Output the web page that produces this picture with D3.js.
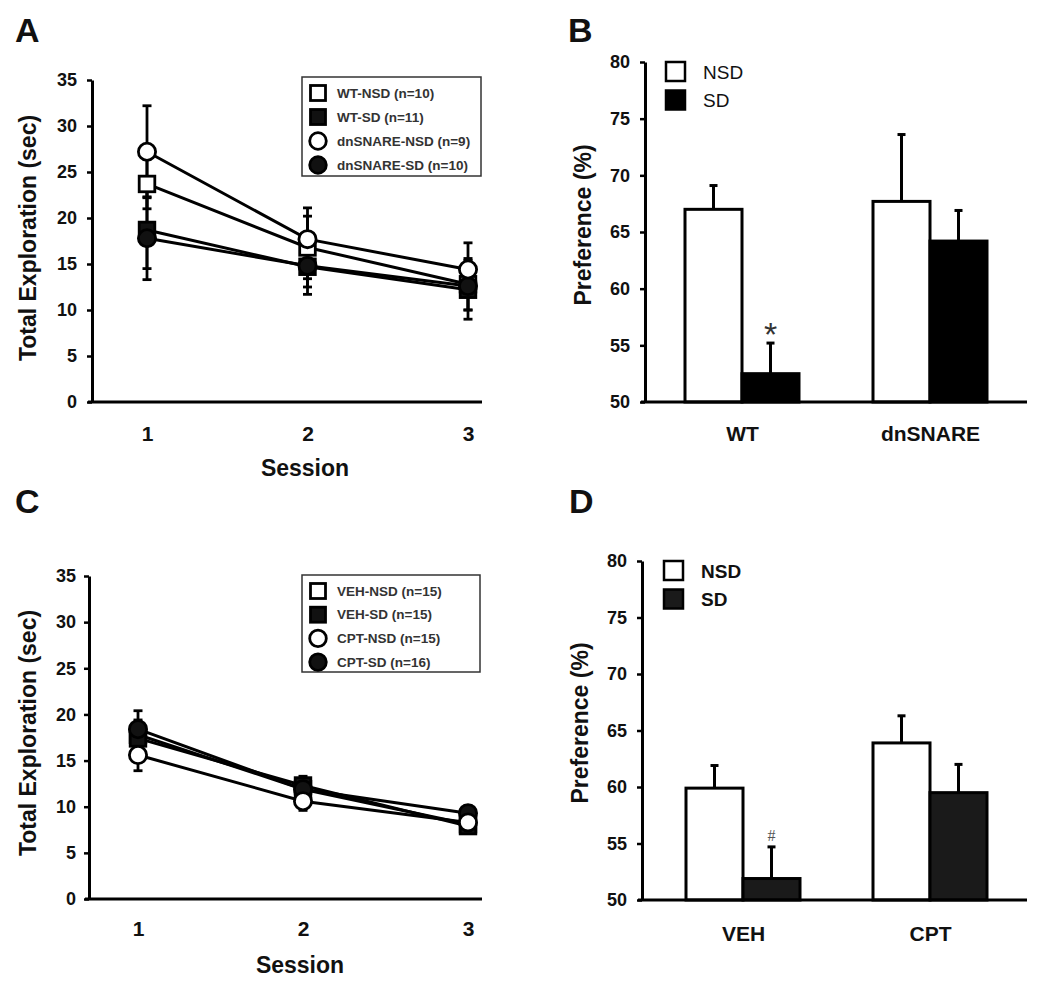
<!DOCTYPE html>
<html>
<head>
<meta charset="utf-8">
<script src="https://cdn.jsdelivr.net/npm/d3@7"></script>
<style>
  body { margin: 0; background: #fff; }
  svg { display: block; font-family: "Liberation Sans", Arial, sans-serif; }
</style>
</head>
<body>
<svg id="chart" width="1050" height="986"></svg>
<script>
// ---------------- DATA ----------------
const sessions = [1, 2, 3];

// Panel A
const seriesA = ["WT-NSD (n=10)", "WT-SD (n=11)", "dnSNARE-NSD (n=9)", "dnSNARE-SD (n=10)"];
const wtNSD_A = [23.7, 16.8, 12.8];
const wtNSD_A_err = [2.7, 3.4, 2.8];
const wtSD_A = [18.7, 14.7, 12.2];
const wtSD_A_err = [4.2, 2.2, 3.2];
const dnNSD_A = [27.2, 17.7, 14.4];
const dnNSD_A_err = [5.0, 3.4, 2.9];
const dnSD_A = [17.8, 14.8, 12.6];
const dnSD_A_err = [4.5, 3.1, 2.6];

// Panel C
const seriesC = ["VEH-NSD (n=15)", "VEH-SD (n=15)", "CPT-NSD (n=15)", "CPT-SD (n=16)"];
const vehNSD_C = [17.8, 11.9, 8.1];
const vehNSD_C_err = [1.6, 1.0, 0.8];
const vehSD_C = [17.4, 12.3, 7.9];
const vehSD_C_err = [1.5, 1.0, 0.8];
const cptNSD_C = [15.6, 10.6, 8.3];
const cptNSD_C_err = [1.7, 1.0, 0.8];
const cptSD_C = [18.4, 11.9, 9.3];
const cptSD_C_err = [2.0, 1.0, 0.8];

const yTicksLine = [0, 5, 10, 15, 20, 25, 30, 35];

// Panel B
const groupsB = ["WT", "dnSNARE"];
const conditions = ["NSD", "SD"];
const nsdB = [67.0, 67.7];
const nsdB_err = [2.1, 5.9];
const sdB = [52.5, 64.2];
const sdB_err = [2.7, 2.7];
const marksB = ["*", ""];

// Panel D
const groupsD = ["VEH", "CPT"];
const nsdD = [59.9, 63.9];
const nsdD_err = [2.0, 2.4];
const sdD = [51.9, 59.5];
const sdD_err = [2.8, 2.5];
const marksD = ["#", ""];

const yTicksBar = [50, 55, 60, 65, 70, 75, 80];

// ---------------- DRAW ----------------
const svg = d3.select("#chart");
svg.append("rect").attr("width", 1050).attr("height", 986).attr("fill", "#fff");

function panelLabel(txt, x, y) {
  svg.append("text").attr("x", x).attr("y", y).text(txt)
    .attr("font-size", 34).attr("font-weight", "bold").attr("fill", "#111");
}

function styleAxis(g) {
  g.select(".domain").attr("stroke", "#000").attr("stroke-width", 3);
  g.selectAll(".tick line").attr("stroke", "#000").attr("stroke-width", 2.5);
}

function linePanel(cfg) {
  const g = svg.append("g");
  const y = d3.scaleLinear().domain([0, 35]).range([cfg.bottom, cfg.top]);
  const x = d3.scaleLinear().domain([1, 3]).range([cfg.x1, cfg.x3]);

  const ya = g.append("g").attr("transform", `translate(${cfg.left},0)`)
    .call(d3.axisLeft(y).tickValues(yTicksLine).tickSize(5).tickSizeOuter(0).tickPadding(cfg.tickPad));
  styleAxis(ya);
  ya.selectAll(".tick text").attr("font-size", 18).attr("font-weight", "bold")
    .attr("fill", "#111").attr("font-family", "Liberation Sans, Arial, sans-serif");

  g.append("line").attr("x1", cfg.left - 4).attr("x2", cfg.axisRight)
    .attr("y1", y(0)).attr("y2", y(0)).attr("stroke", "#000").attr("stroke-width", 3);
  const xa = g.append("g").attr("transform", `translate(0,${y(0)})`)
    .call(d3.axisBottom(x).tickValues(sessions).tickFormat(d3.format("d")).tickSize(0).tickPadding(cfg.xPad));
  xa.select(".domain").remove();
  xa.selectAll(".tick text").attr("font-size", 21).attr("font-weight", "bold")
    .attr("fill", "#111").attr("font-family", "Liberation Sans, Arial, sans-serif");

  g.append("text").attr("x", cfg.sessionX).attr("y", cfg.sessionY).attr("text-anchor", "middle")
    .attr("font-size", 23).attr("font-weight", "bold").attr("fill", "#111").text("Session");
  g.append("text").attr("transform", `translate(${cfg.ytX},${cfg.ytY}) rotate(-90)`)
    .attr("text-anchor", "middle").attr("dominant-baseline", "central")
    .attr("font-size", 23).attr("font-weight", "bold").attr("fill", "#111").text("Total Exploration (sec)");

  const line = d3.line().x((d, i) => x(sessions[i])).y(d => y(d));

  cfg.series.forEach(s => {
    s.values.forEach((v, i) => {
      const cx = x(sessions[i]);
      const e = s.err[i];
      g.append("line").attr("x1", cx).attr("x2", cx).attr("y1", y(v - e)).attr("y2", y(v + e))
        .attr("stroke", "#000").attr("stroke-width", 2.8);
      [v - e, v + e].forEach(t => {
        g.append("line").attr("x1", cx - 4.5).attr("x2", cx + 4.5).attr("y1", y(t)).attr("y2", y(t))
          .attr("stroke", "#000").attr("stroke-width", 2.8);
      });
    });
  });
  cfg.series.forEach(s => {
    g.append("path").datum(s.values).attr("d", line).attr("fill", "none")
      .attr("stroke", "#000").attr("stroke-width", 3);
  });
  function marker(sel, shape, filled, cx, cy, size) {
    if (shape === "square") {
      sel.append("rect").attr("x", cx - size).attr("y", cy - size).attr("width", size * 2).attr("height", size * 2)
        .attr("fill", filled ? "#111" : "#fff").attr("stroke", "#000").attr("stroke-width", 2.8);
    } else {
      sel.append("circle").attr("cx", cx).attr("cy", cy).attr("r", size + 0.8)
        .attr("fill", filled ? "#111" : "#fff").attr("stroke", "#000").attr("stroke-width", 2.8);
    }
  }
  const drawOrder = [0, 1, 3, 2];
  drawOrder.forEach(k => {
    const s = cfg.series[k];
    s.values.forEach((v, i) => marker(g, s.shape, s.filled, x(sessions[i]), y(v), 7.8));
  });

  const L = cfg.legend;
  g.append("rect").attr("x", L.x).attr("y", L.y).attr("width", L.w).attr("height", L.h)
    .attr("fill", "#fff").attr("stroke", "#333").attr("stroke-width", 1.5);
  cfg.series.forEach((s, k) => {
    const cy = L.y + 16 + k * L.step;
    marker(g, s.shape, s.filled, L.x + 16, cy, 7.5);
    g.append("text").attr("x", L.x + 35).attr("y", cy).attr("dominant-baseline", "central")
      .attr("font-size", 13.5).attr("font-weight", "bold").attr("fill", "#333").text(s.name);
  });
}

function barPanel(cfg) {
  const g = svg.append("g");
  const y = d3.scaleLinear().domain([50, 80]).range([cfg.bottom, cfg.top]);
  const gx = d3.scalePoint().domain(cfg.groups).range([cfg.g1, cfg.g2]);
  const sx = d3.scaleBand().domain(conditions).range([-cfg.bw, cfg.bw]).paddingInner(0);

  const ya = g.append("g").attr("transform", `translate(${cfg.left},0)`)
    .call(d3.axisLeft(y).tickValues(yTicksBar).tickSize(5).tickSizeOuter(0).tickPadding(10));
  styleAxis(ya);
  ya.selectAll(".tick text").attr("font-size", 18).attr("font-weight", "bold")
    .attr("fill", "#111").attr("font-family", "Liberation Sans, Arial, sans-serif");

  g.append("text").attr("transform", `translate(${cfg.ytX},${cfg.ytY}) rotate(-90)`)
    .attr("text-anchor", "middle").attr("dominant-baseline", "central")
    .attr("font-size", 23).attr("font-weight", "bold").attr("fill", "#111").text("Preference (%)");

  const rows = [];
  cfg.groups.forEach((grp, i) => {
    rows.push({ grp, cond: "NSD", v: cfg.nsd[i], e: cfg.nsdErr[i], mark: "" });
    rows.push({ grp, cond: "SD", v: cfg.sd[i], e: cfg.sdErr[i], mark: cfg.marks[i] });
  });

  rows.forEach(r => {
    const x0 = gx(r.grp) + sx(r.cond);
    const cx = x0 + sx.bandwidth() / 2;
    g.append("line").attr("x1", cx).attr("x2", cx).attr("y1", y(r.v)).attr("y2", y(r.v + r.e))
      .attr("stroke", "#000").attr("stroke-width", 3);
    g.append("line").attr("x1", cx - 4).attr("x2", cx + 4).attr("y1", y(r.v + r.e)).attr("y2", y(r.v + r.e))
      .attr("stroke", "#000").attr("stroke-width", 3);
  });
  rows.forEach(r => {
    const x0 = gx(r.grp) + sx(r.cond);
    g.append("rect").attr("x", x0).attr("y", y(r.v)).attr("width", sx.bandwidth()).attr("height", y(50) - y(r.v))
      .attr("fill", r.cond === "NSD" ? "#fff" : cfg.sdColor).attr("stroke", "#000").attr("stroke-width", 3);
    if (r.mark === "*") {
      g.append("text").attr("x", x0 + sx.bandwidth() / 2).attr("y", y(r.v + r.e) + cfg.markDy)
        .attr("text-anchor", "middle").attr("font-size", 34).attr("fill", "#333").text("*");
    } else if (r.mark === "#") {
      g.append("text").attr("x", x0 + sx.bandwidth() / 2).attr("y", y(r.v + r.e) + cfg.markDy)
        .attr("text-anchor", "middle").attr("font-size", 16)
        .attr("font-family", "Liberation Serif, serif").attr("fill", "#555").text("#");
    }
  });

  g.append("line").attr("x1", cfg.left - 4).attr("x2", cfg.axisRight).attr("y1", y(50)).attr("y2", y(50))
    .attr("stroke", "#000").attr("stroke-width", 3);
  const xa = g.append("g").attr("transform", `translate(0,${y(50)})`)
    .call(d3.axisBottom(gx).tickSize(0).tickPadding(cfg.xPad));
  xa.select(".domain").remove();
  xa.selectAll(".tick text").attr("font-size", 21).attr("font-weight", "bold")
    .attr("fill", "#111").attr("font-family", "Liberation Sans, Arial, sans-serif");

  conditions.forEach((c, k) => {
    const yy = cfg.legY + k * 28.5;
    g.append("rect").attr("x", cfg.legX).attr("y", yy).attr("width", 19).attr("height", 19)
      .attr("fill", c === "NSD" ? "#fff" : cfg.sdColor).attr("stroke", "#000").attr("stroke-width", 2.5);
    g.append("text").attr("x", cfg.legX + 37).attr("y", yy + 10).attr("dominant-baseline", "central")
      .attr("font-size", 19).attr("font-weight", cfg.legWeight).attr("fill", "#111").text(c);
  });
}

panelLabel("A", 15, 42);
panelLabel("B", 568, 42);
panelLabel("C", 15, 513);
panelLabel("D", 569, 513);

linePanel({
  left: 92, top: 80, bottom: 402, x1: 147, x3: 468, axisRight: 482, tickPad: 10, xPad: 24,
  sessionX: 305, sessionY: 476, ytX: 28, ytY: 238,
  legend: { x: 302, y: 77, w: 179, h: 99, step: 24 },
  series: [
    { name: seriesA[0], values: wtNSD_A, err: wtNSD_A_err, shape: "square", filled: false },
    { name: seriesA[1], values: wtSD_A, err: wtSD_A_err, shape: "square", filled: true },
    { name: seriesA[2], values: dnNSD_A, err: dnNSD_A_err, shape: "circle", filled: false },
    { name: seriesA[3], values: dnSD_A, err: dnSD_A_err, shape: "circle", filled: true }
  ]
});

linePanel({
  left: 89, top: 576, bottom: 899, x1: 138, x3: 468, axisRight: 482, tickPad: 8, xPad: 22,
  sessionX: 300, sessionY: 973, ytX: 28, ytY: 733,
  legend: { x: 302, y: 575, w: 178, h: 97, step: 23.7 },
  series: [
    { name: seriesC[0], values: vehNSD_C, err: vehNSD_C_err, shape: "square", filled: false },
    { name: seriesC[1], values: vehSD_C, err: vehSD_C_err, shape: "square", filled: true },
    { name: seriesC[2], values: cptNSD_C, err: cptNSD_C_err, shape: "circle", filled: false },
    { name: seriesC[3], values: cptSD_C, err: cptSD_C_err, shape: "circle", filled: true }
  ]
});

barPanel({
  left: 645, top: 62, bottom: 402, g1: 742, g2: 930, bw: 57, axisRight: 1027, xPad: 24,
  ytX: 583, ytY: 225, groups: groupsB, nsd: nsdB, nsdErr: nsdB_err, sd: sdB, sdErr: sdB_err,
  marks: marksB, markDy: 3, sdColor: "#000", legX: 666, legY: 62, legWeight: "normal"
});

barPanel({
  left: 642, top: 561, bottom: 900, g1: 743, g2: 930, bw: 57, axisRight: 1027, xPad: 26,
  ytX: 580, ytY: 723, groups: groupsD, nsd: nsdD, nsdErr: nsdD_err, sd: sdD, sdErr: sdD_err,
  marks: marksD, markDy: -6, sdColor: "#1a1a1a", legX: 664, legY: 561, legWeight: "bold"
});
</script>
</body>
</html>
